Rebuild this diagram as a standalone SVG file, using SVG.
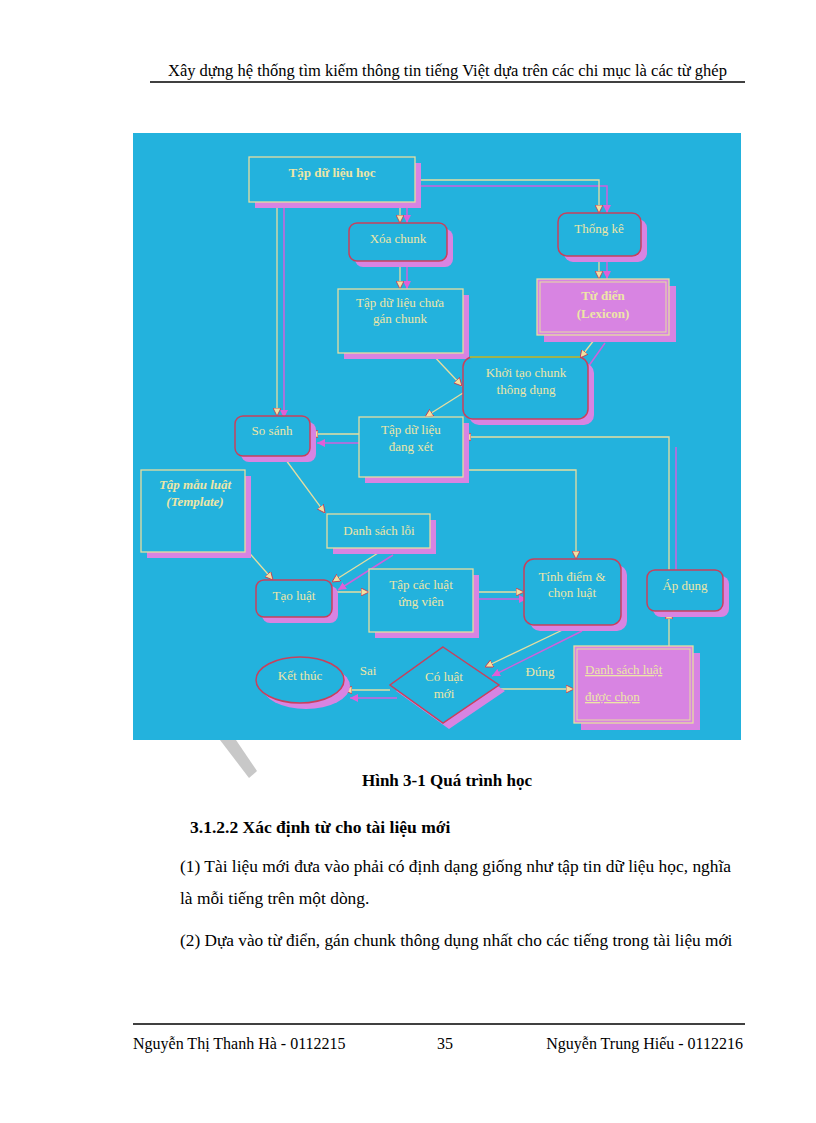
<svg xmlns="http://www.w3.org/2000/svg" width="816" height="1123" viewBox="0 0 816 1123">
<defs>
<style>
.pg{font-family:"Liberation Serif","Times New Roman",serif;fill:#000}
.dt{font-family:"Liberation Serif","Times New Roman",serif;font-size:13px;fill:#EDE6A6;text-anchor:middle}
.b{font-weight:bold}
.bi{font-weight:bold;font-style:italic}
.sh{fill:#D884E2;stroke:none}
.box{fill:#23B2DD;stroke:#E6DEA0;stroke-width:1.3}
.rbox{fill:#23B2DD;stroke:#C8405C;stroke-width:1.5}
.mbox{fill:#D884E2;stroke:#E6DEA0;stroke-width:1.3}
.cl{fill:none;stroke:#E6DEA0;stroke-width:1.3}
.ml{fill:none;stroke:#D060DC;stroke-width:1.5}
.ul{text-anchor:start;text-decoration:underline}
</style>
<marker id="ac" viewBox="0 0 10 10" refX="10" refY="5" markerWidth="8" markerHeight="8" orient="auto" markerUnits="userSpaceOnUse">
<path d="M0,0 L10,5 L0,10 z" fill="#F0E2A0" stroke="#C03050" stroke-width="1"/>
</marker>
<marker id="am" viewBox="0 0 10 10" refX="10" refY="5" markerWidth="8" markerHeight="8" orient="auto" markerUnits="userSpaceOnUse">
<path d="M0,0 L10,5 L0,10 z" fill="#E060D8"/>
</marker>
</defs>
<rect width="816" height="1123" fill="#FFFFFF"/>
<!-- header -->
<text class="pg" x="168" y="76" font-size="16.5">Xây dựng hệ thống tìm kiếm thông tin tiếng Việt dựa trên các chi mục là các từ ghép</text>
<line x1="150" y1="82" x2="745" y2="82" stroke="#000" stroke-width="1.5"/>
<!-- watermark fragment -->
<polygon points="220,740 236,740 257,771 249,778" fill="#C8C8C8"/>
<!-- diagram background -->
<rect x="133" y="133" width="608" height="607" fill="#23B2DD"/>
<g id="connectors">
<path class="ml" d="M407,208 V223" marker-end="url(#am)"/>
<path class="cl" d="M400,202 V223" marker-end="url(#ac)"/>
<path class="ml" d="M421,186 H607 V213" marker-end="url(#am)"/>
<path class="cl" d="M415,180 H599 V213" marker-end="url(#ac)"/>
<path class="ml" d="M407,267 V289" marker-end="url(#am)"/>
<path class="cl" d="M400,261 V289" marker-end="url(#ac)"/>
<path class="ml" d="M607,262 V279" marker-end="url(#am)"/>
<path class="cl" d="M599,256 V279" marker-end="url(#ac)"/>
<path class="ml" d="M284,208 V418" marker-end="url(#am)"/>
<path class="cl" d="M277,202 V416" marker-end="url(#ac)"/>
<path class="cl" d="M431,353 L462,386" marker-end="url(#ac)"/>
<path class="cl" d="M463,393 L425,417" marker-end="url(#ac)"/>
<path class="ml" d="M605,343 L588,367"/>
<path class="cl" d="M598,335 L580,358" marker-end="url(#ac)"/>
<path class="ml" d="M359,443 H317" marker-end="url(#am)"/>
<path class="cl" d="M359,434 H310" marker-end="url(#ac)"/>
<path class="cl" d="M283,456 L325,513" marker-end="url(#ac)"/>
<path class="cl" d="M245,548 L273,580" marker-end="url(#ac)"/>
<path class="ml" d="M393,555 L338,590" marker-end="url(#am)"/>
<path class="cl" d="M386,548 L332,582" marker-end="url(#ac)"/>
<path class="cl" d="M332,592 H369" marker-end="url(#ac)"/>
<path class="ml" d="M479,599 H527" marker-end="url(#am)"/>
<path class="cl" d="M473,592 H524" marker-end="url(#ac)"/>
<path class="cl" d="M463,470 H576 V559" marker-end="url(#ac)"/>
<path class="ml" d="M676,447 V570"/>
<path class="cl" d="M669,570 V437 H463" marker-end="url(#ac)"/>
<path class="cl" d="M669,646 V611" marker-end="url(#ac)"/>
<path class="ml" d="M582,631 L492,676" marker-end="url(#am)"/>
<path class="cl" d="M573,625 L485,667" marker-end="url(#ac)"/>
<path class="cl" d="M499,689 H574" marker-end="url(#ac)"/>
<path class="ml" d="M397,698 H350" marker-end="url(#am)"/>
<path class="cl" d="M390,690 H344" marker-end="url(#ac)"/>
</g>
<g id="n1">
<rect class="sh" x="255" y="163" width="166" height="45"/>
<rect class="box" x="249" y="157" width="166" height="45"/>
<text class="dt b" x="332" y="177">Tập dữ liệu học</text>
</g>
<g id="n2">
<rect class="sh" x="355" y="229" width="98" height="38" rx="8"/>
<rect class="rbox" x="349" y="223" width="98" height="38" rx="8"/>
<text class="dt" x="398" y="243">Xóa chunk</text>
</g>
<g id="n3">
<rect class="sh" x="344" y="295" width="125" height="64"/>
<rect class="box" x="338" y="289" width="125" height="64"/>
<text class="dt" x="400" y="307">Tập dữ liệu chưa</text>
<text class="dt" x="400" y="323">gán chunk</text>
</g>
<g id="n4">
<rect class="sh" x="564" y="219" width="83" height="43" rx="9"/>
<rect class="rbox" x="558" y="213" width="83" height="43" rx="9"/>
<text class="dt" x="599" y="233">Thống kê</text>
</g>
<g id="n5">
<rect class="sh" x="544" y="286" width="132" height="56"/>
<rect class="mbox" x="537" y="279" width="132" height="56"/>
<rect x="540" y="282" width="126" height="50" fill="none" stroke="#E6DEA0" stroke-width="1"/>
<text class="dt b" x="603" y="300">Từ điển</text>
<text class="dt b" x="603" y="318">(Lexicon)</text>
</g>
<g id="n6">
<rect class="sh" x="469" y="363" width="125" height="62" rx="10"/>
<rect class="rbox" x="463" y="357" width="125" height="62" rx="10"/>
<line x1="470" y1="357" x2="580" y2="357" stroke="#9CD040" stroke-width="1.5"/>
<text class="dt" x="526" y="377">Khởi tạo chunk</text>
<text class="dt" x="526" y="394">thông dụng</text>
</g>
<g id="n7">
<rect class="sh" x="241" y="422" width="75" height="40" rx="8"/>
<rect class="rbox" x="235" y="416" width="75" height="40" rx="8"/>
<text class="dt" x="272" y="435">So sánh</text>
</g>
<g id="n8">
<rect class="sh" x="365" y="423" width="104" height="60"/>
<rect class="box" x="359" y="417" width="104" height="60"/>
<text class="dt" x="411" y="434">Tập dữ liệu</text>
<text class="dt" x="411" y="451">đang xét</text>
</g>
<g id="n9">
<rect class="sh" x="147" y="476" width="104" height="82"/>
<rect class="box" x="141" y="470" width="104" height="82"/>
<text class="dt bi" x="195" y="489">Tập mẫu luật</text>
<text class="dt bi" x="195" y="506">(Template)</text>
</g>
<g id="n10">
<rect class="sh" x="333" y="520" width="103" height="34"/>
<rect class="box" x="327" y="514" width="103" height="34"/>
<text class="dt" x="379" y="535">Danh sách lỗi</text>
</g>
<g id="n11">
<rect class="sh" x="262" y="586" width="76" height="37" rx="8"/>
<rect class="rbox" x="256" y="580" width="76" height="37" rx="8"/>
<text class="dt" x="294" y="600">Tạo luật</text>
</g>
<g id="n12">
<rect class="sh" x="375" y="575" width="104" height="63"/>
<rect class="box" x="369" y="569" width="104" height="63"/>
<text class="dt" x="421" y="589">Tập các luật</text>
<text class="dt" x="421" y="606">ứng viên</text>
</g>
<g id="n13">
<rect class="sh" x="530" y="565" width="97" height="66" rx="10"/>
<rect class="rbox" x="524" y="559" width="97" height="66" rx="10"/>
<text class="dt" x="572" y="581">Tính điểm &amp;</text>
<text class="dt" x="572" y="597">chọn luật</text>
</g>
<g id="n14">
<rect class="sh" x="653" y="576" width="76" height="41" rx="8"/>
<rect class="rbox" x="647" y="570" width="76" height="41" rx="8"/>
<text class="dt" x="685" y="590">Áp dụng</text>
</g>
<g id="n15">
<rect class="sh" x="581" y="653" width="119" height="77"/>
<rect class="mbox" x="574" y="646" width="119" height="77"/>
<rect x="577" y="649" width="113" height="71" fill="none" stroke="#E6DEA0" stroke-width="1"/>
<text class="dt ul" x="585" y="674">Danh sách luật</text>
<text class="dt ul" x="585" y="701">được chọn</text>
</g>
<g id="n16">
<polygon class="sh" points="449,653 505,691 449,729 396,691"/>
<polygon class="rbox" points="443,647 499,685 443,723 390,685"/>
<text class="dt" x="444" y="681">Có luật</text>
<text class="dt" x="444" y="698">mới</text>
</g>
<g id="n17">
<ellipse class="sh" cx="306" cy="686" rx="44" ry="23"/>
<ellipse class="rbox" cx="300" cy="680" rx="44" ry="23"/>
<text class="dt" x="300" y="680">Kết thúc</text>
</g>
<g id="labels">
<text class="dt" x="368" y="675">Sai</text>
<text class="dt" x="540" y="676">Đúng</text>
</g>
<!-- page text -->
<text class="pg" x="447" y="786" font-size="17" font-weight="bold" text-anchor="middle">Hình 3-1 Quá trình học</text>
<text class="pg" x="190" y="833" font-size="17.5" font-weight="bold">3.1.2.2 Xác định từ cho tài liệu mới</text>
<text class="pg" x="180" y="872" font-size="17.4">(1) Tài liệu mới đưa vào phải có định dạng giống như tập tin dữ liệu học, nghĩa</text>
<text class="pg" x="180" y="904" font-size="17.4">là mỗi tiếng trên một dòng.</text>
<text class="pg" x="180" y="946" font-size="17.3">(2) Dựa vào từ điển, gán chunk thông dụng nhất cho các tiếng trong tài liệu mới</text>
<line x1="133" y1="1024" x2="745" y2="1024" stroke="#000" stroke-width="1.5"/>
<text class="pg" x="133" y="1049" font-size="16">Nguyễn Thị Thanh Hà - 0112215</text>
<text class="pg" x="445" y="1049" font-size="16" text-anchor="middle">35</text>
<text class="pg" x="743" y="1049" font-size="16" text-anchor="end">Nguyễn Trung Hiếu - 0112216</text>
</svg>
